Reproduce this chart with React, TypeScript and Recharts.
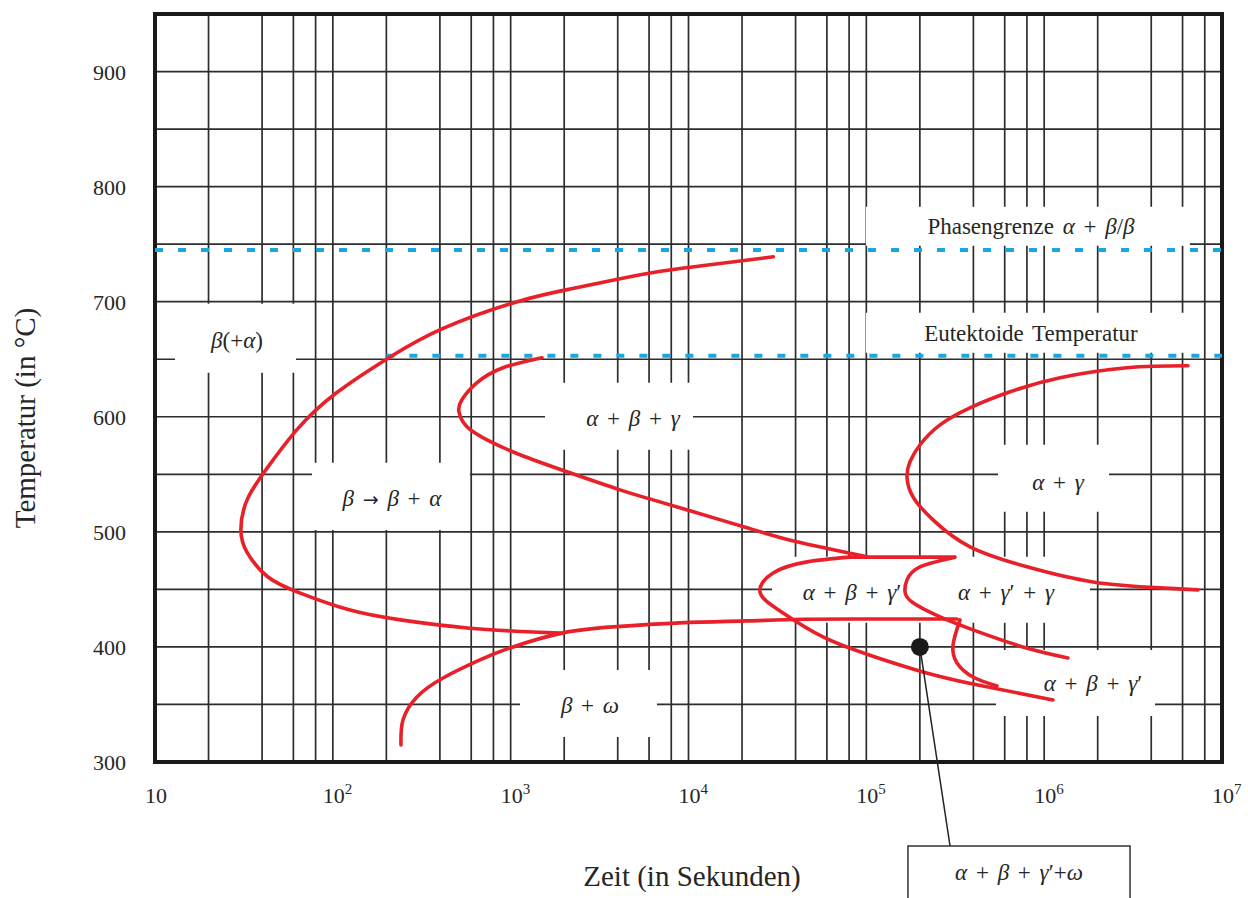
import React from 'react';
import {
  LineChart,
  Line,
  XAxis,
  YAxis,
  CartesianGrid,
  ReferenceArea,
  ReferenceLine,
  ReferenceDot,
} from 'recharts';

const FONT = '"Liberation Serif", "Times New Roman", serif';
const TEXT = '#262626';
const RED = '#e8202a';
const BLUE = '#19a7e0';
const GRID = '#2d2d2d';

// logarithmisches Raster: Linien bei 1, 2, 4, 6, 8 je Dekade
const decadeStarts = [10, 100, 1000, 10000, 100000, 1000000];
const gridFactors = [1, 2, 4, 6, 8];
const xGridTicks = [...decadeStarts.flatMap((d) => gridFactors.map((f) => f * d)), 10000000];
const xLabelTicks = [10, 100, 1000, 10000, 100000, 1000000, 10000000];
const yGridTicks = [300, 350, 400, 450, 500, 550, 600, 650, 700, 750, 800, 850, 900, 950];
const yLabelTicks = [300, 400, 500, 600, 700, 800, 900];

// Kurven als [Zeit in s, Temperatur in °C]
const betaToAlpha = [
  [30000, 739], [11600, 731], [6100, 725], [3200, 716.5], [2160, 711], [1090, 700],
  [420, 677], [210, 652], [104, 620.4], [63, 589], [43, 556], [33, 528], [30.4, 502],
  [33, 482], [43, 461], [65, 447], [125, 432], [240, 423.5], [570, 416.5], [1340, 413], [1900, 412],
];
const alphaBetaGamma = [
  [1500, 651.3], [906, 642.6], [647, 629.6], [532, 614.8], [512, 604.3], [568, 591.3],
  [736, 580], [1128, 567], [2074, 552.2], [4120, 536.5], [6316, 527.8], [10200, 518.3],
  [21330, 503.5], [40740, 491.3], [100900, 478.3],
];
const lensTop = [[80900, 478], [315300, 478]];
const lensNose = [
  [80900, 478], [46400, 473.9], [29900, 464.3], [25230, 447.8], [32700, 431.3],
  [57070, 408.7], [111900, 391.3], [208300, 378.3], [398000, 367.8], [1121000, 353.9],
];
const gammaPrimeGamma = [
  [315300, 478], [200400, 469.6], [169300, 458.3], [165000, 447.8], [183000, 438.3],
  [259700, 426.1], [398000, 414.8], [760000, 400], [1361000, 390.4],
];
const betaOmega = [
  [241.7, 314.8], [248, 336.5], [297, 356.5], [416.5, 373], [672, 388.7], [1031, 400],
  [1970, 412.2], [3763, 417.4], [8960, 420.9], [21330, 422.6], [44000, 424], [130000, 424.3],
  [323600, 424.3],
];
const hook = [[336400, 423.5], [307300, 401.7], [323600, 386.1], [398000, 373.9], [543000, 366.1]];
const alphaGamma = [
  [6440000, 644.3], [2924000, 642.6], [1228000, 633.9], [643000, 621.7], [382800, 607.8],
  [259700, 593], [200400, 575.7], [176000, 560.9], [169300, 547.8], [183000, 530.4],
  [237100, 510.4], [382800, 487], [801000, 469.6], [1883000, 456.5], [4482000, 451.3], [7330000, 449.6],
];
const phaseBoundary = [[10, 745], [10000000, 745]];
const eutectoid = [[200, 653], [10000000, 653]];

// weiße Felder hinter den Beschriftungen
const labelBoxes = [
  [12.96, 62.1, 638.3, 698.3],
  [76.4, 590, 501.7, 560],
  [1560, 10600, 571.3, 629.6],
  [550200, 2316000, 517.4, 575.7],
  [29490, 1810000, 420.9, 478.3],
  [536000, 4201000, 340, 397.4],
  [1128, 6650, 321.7, 380],
  [99500, 6600000, 748.7, 782.6],
  [99500, 6600000, 655.7, 690.4],
];

const phaseLabels: [number, number, string][] = [
  [28.9, 667, 'β(+α)'],
  [215, 529.6, 'β → β + α'],
  [4875, 599.1, 'α + β + γ'],
  [1197000, 543.5, 'α + γ'],
  [83100, 447.8, 'α + β + γ′'],
  [610300, 447.8, 'α + γ′ + γ'],
  [1883000, 368.7, 'α + β + γ′'],
  [2793, 349.6, 'β + ω'],
  [843000, 766.1, 'Phasengrenze α + β/β'],
  [843000, 673, 'Eutektoide Temperatur'],
];

const marker = { t: 200000, T: 400 };
const calloutText = 'α + β + γ′+ω';

const toPoints = (arr: number[][]) => arr.map(([t, T]) => ({ t, T }));

function richText(s: string) {
  return s
    .split(/([αβγω→])/)
    .filter((p) => p.length > 0)
    .map((p, i) => {
      if (p === '→') {
        return (
          <tspan key={i} fontFamily='"DejaVu Sans", sans-serif' fontSize={19}>
            {p}
          </tspan>
        );
      }
      return /[αβγω]/.test(p) ? (
        <tspan key={i} fontStyle="italic">{p}</tspan>
      ) : (
        <tspan key={i}>{p}</tspan>
      );
    });
}

const phaseLabel = (text: string) => (props: any) => {
  const vb = props.viewBox || {};
  const cx = vb.x + (vb.width || 0) / 2;
  const cy = vb.y + (vb.height || 0) / 2;
  return (
    <text
      x={cx}
      y={cy}
      dy="0.35em"
      textAnchor="middle"
      fontFamily={FONT}
      fontSize={23}
      fill={TEXT}
      style={{ whiteSpace: 'pre', wordSpacing: 3 }}
    >
      {richText(text)}
    </text>
  );
};

function XTick(props: any) {
  const { x, payload } = props;
  const v = payload.value;
  if (!xLabelTicks.includes(v)) return null;
  const exp = Math.round(Math.log10(v));
  return (
    <text x={x - 10} y={803} textAnchor="start" fontFamily={FONT} fontSize={22} fill={TEXT}>
      10
      {exp > 1 && (
        <tspan dy={-9} fontSize={15}>
          {exp}
        </tspan>
      )}
    </text>
  );
}

function YTick(props: any) {
  const { y, payload } = props;
  if (!yLabelTicks.includes(payload.value)) return null;
  return (
    <text x={126} y={y + 8} textAnchor="end" fontFamily={FONT} fontSize={22} fill={TEXT}>
      {payload.value}
    </text>
  );
}

const redSeries = [betaToAlpha, alphaBetaGamma, lensNose, gammaPrimeGamma, hook, alphaGamma, betaOmega];

export default function App() {
  return (
    <div style={{ position: 'absolute', left: 0, top: 0, background: '#fff' }}>
      <LineChart width={1248} height={898} margin={{ top: 14, right: 26, left: 0, bottom: 0 }}>
        <CartesianGrid stroke={GRID} strokeWidth={1.7} />
        <XAxis
          type="number"
          dataKey="t"
          scale="log"
          domain={[10, 10000000]}
          ticks={xGridTicks}
          interval={0}
          tick={XTick}
          axisLine={false}
          tickLine={false}
          height={136}
          allowDataOverflow
          label={() => (
            <text x={692} y={886} textAnchor="middle" fontFamily={FONT} fontSize={29} fill={TEXT}>
              Zeit (in Sekunden)
            </text>
          )}
        />
        <YAxis
          type="number"
          domain={[300, 950]}
          ticks={yGridTicks}
          interval={0}
          tick={YTick}
          axisLine={false}
          tickLine={false}
          width={155}
          allowDataOverflow
          label={() => (
            <text
              x={25}
              y={418}
              dy="0.33em"
              transform="rotate(-90 25 418)"
              textAnchor="middle"
              fontFamily={FONT}
              fontSize={29}
              fill={TEXT}
            >
              Temperatur (in °C)
            </text>
          )}
        />

        {labelBoxes.map(([x1, x2, y1, y2], i) => (
          <ReferenceArea key={`box-${i}`} x1={x1} x2={x2} y1={y1} y2={y2} fill="#fff" fillOpacity={1} stroke="none" />
        ))}

        <Line data={toPoints(phaseBoundary)} dataKey="T" stroke={BLUE} strokeWidth={4} strokeDasharray="8 15" dot={false} activeDot={false} isAnimationActive={false} type="linear" />
        <Line data={toPoints(eutectoid)} dataKey="T" stroke={BLUE} strokeWidth={4} strokeDasharray="8 15" dot={false} activeDot={false} isAnimationActive={false} type="linear" />

        {redSeries.map((s, i) => (
          <Line
            key={`red-${i}`}
            data={toPoints(s)}
            dataKey="T"
            type="natural"
            stroke={RED}
            strokeWidth={3.6}
            strokeLinecap="round"
            dot={false}
            activeDot={false}
            isAnimationActive={false}
          />
        ))}
        <Line data={toPoints(lensTop)} dataKey="T" type="linear" stroke={RED} strokeWidth={3.6} dot={false} activeDot={false} isAnimationActive={false} />

        <ReferenceLine
          segment={[{ x: marker.t, y: marker.T }, { x: 295600, y: 227 }]}
          stroke="#222"
          strokeWidth={1.5}
          ifOverflow="visible"
        />
        <ReferenceDot x={marker.t} y={marker.T} r={9} fill="#1a1a1a" stroke="none" />
        <ReferenceArea x1={171400} x2={3040000} y1={170} y2={227} ifOverflow="visible" fill="#fff" fillOpacity={1} stroke="#333" strokeWidth={1.5} />
        <ReferenceDot x={722000} y={204.3} r={0} fill="none" stroke="none" ifOverflow="visible" label={phaseLabel(calloutText)} />

        {phaseLabels.map(([t, T, text], i) => (
          <ReferenceDot key={`lbl-${i}`} x={t} y={T} r={0} fill="none" stroke="none" label={phaseLabel(text)} />
        ))}

        <ReferenceArea x1={10} x2={10000000} y1={300} y2={950} fill="none" stroke="#1a1a1a" strokeWidth={4} />
      </LineChart>
    </div>
  );
}
